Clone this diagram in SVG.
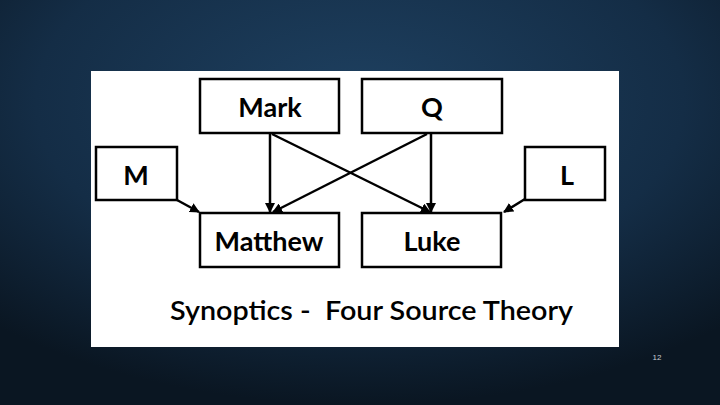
<svg xmlns="http://www.w3.org/2000/svg" width="720" height="405" viewBox="0 0 720 405">
<defs>
<radialGradient id="bg" cx="50%" cy="25%" r="75%">
<stop offset="0" stop-color="#1e4060"/>
<stop offset="0.6" stop-color="#142d46"/>
<stop offset="1" stop-color="#0a1622"/>
</radialGradient>
<marker id="ah" viewBox="0 0 10 10" refX="9" refY="5" markerWidth="4" markerHeight="4" orient="auto" markerUnits="strokeWidth">
<path d="M0,0 L10,5 L0,10 z" fill="#000"/>
</marker>
<style>
.box{fill:#fff;stroke:#000;stroke-width:2.5}
.lbl{font-family:Lato,"Open Sans",sans-serif;font-weight:bold;font-size:27px;fill:#000;text-anchor:middle}
.con{stroke:#000;stroke-width:2.5;fill:none;marker-end:url(#ah)}
</style>
</defs>
<rect width="720" height="405" fill="url(#bg)"/>
<rect x="91" y="71" width="528" height="276" fill="#fff"/>
<g id="connectors">
<line class="con" x1="270" y1="134" x2="270" y2="212"/>
<line class="con" x1="272" y1="134" x2="430" y2="212"/>
<line class="con" x1="431" y1="134" x2="431" y2="212"/>
<line class="con" x1="427" y1="134" x2="273" y2="212"/>
<line class="con" x1="177" y1="200" x2="199" y2="212"/>
<line class="con" x1="525" y1="199" x2="504" y2="212"/>
</g>
<g id="mark"><rect class="box" x="200" y="79" width="139" height="54"/><text class="lbl" x="270" y="117">Mark</text></g>
<g id="q"><rect class="box" x="362" y="79" width="140" height="54"/><text class="lbl" x="432" y="117">Q</text></g>
<g id="m"><rect class="box" x="96" y="147" width="81" height="53"/><text class="lbl" x="136" y="185">M</text></g>
<g id="l"><rect class="box" x="525" y="147" width="80" height="53"/><text class="lbl" x="567" y="185">L</text></g>
<g id="matthew"><rect class="box" x="200" y="213" width="139" height="54"/><text class="lbl" x="269" y="251">Matthew</text></g>
<g id="luke"><rect class="box" x="362" y="213" width="139" height="54"/><text class="lbl" x="432" y="251">Luke</text></g>
<text x="170" y="320" font-family="Lato,'Open Sans',sans-serif" font-size="27" font-weight="600" fill="#000" textLength="403" lengthAdjust="spacingAndGlyphs" xml:space="preserve">Synoptics -  Four Source Theory</text>
<text x="657" y="360" font-family="'Liberation Sans',sans-serif" font-size="8" fill="#c8ccd2" text-anchor="middle">12</text>
</svg>
